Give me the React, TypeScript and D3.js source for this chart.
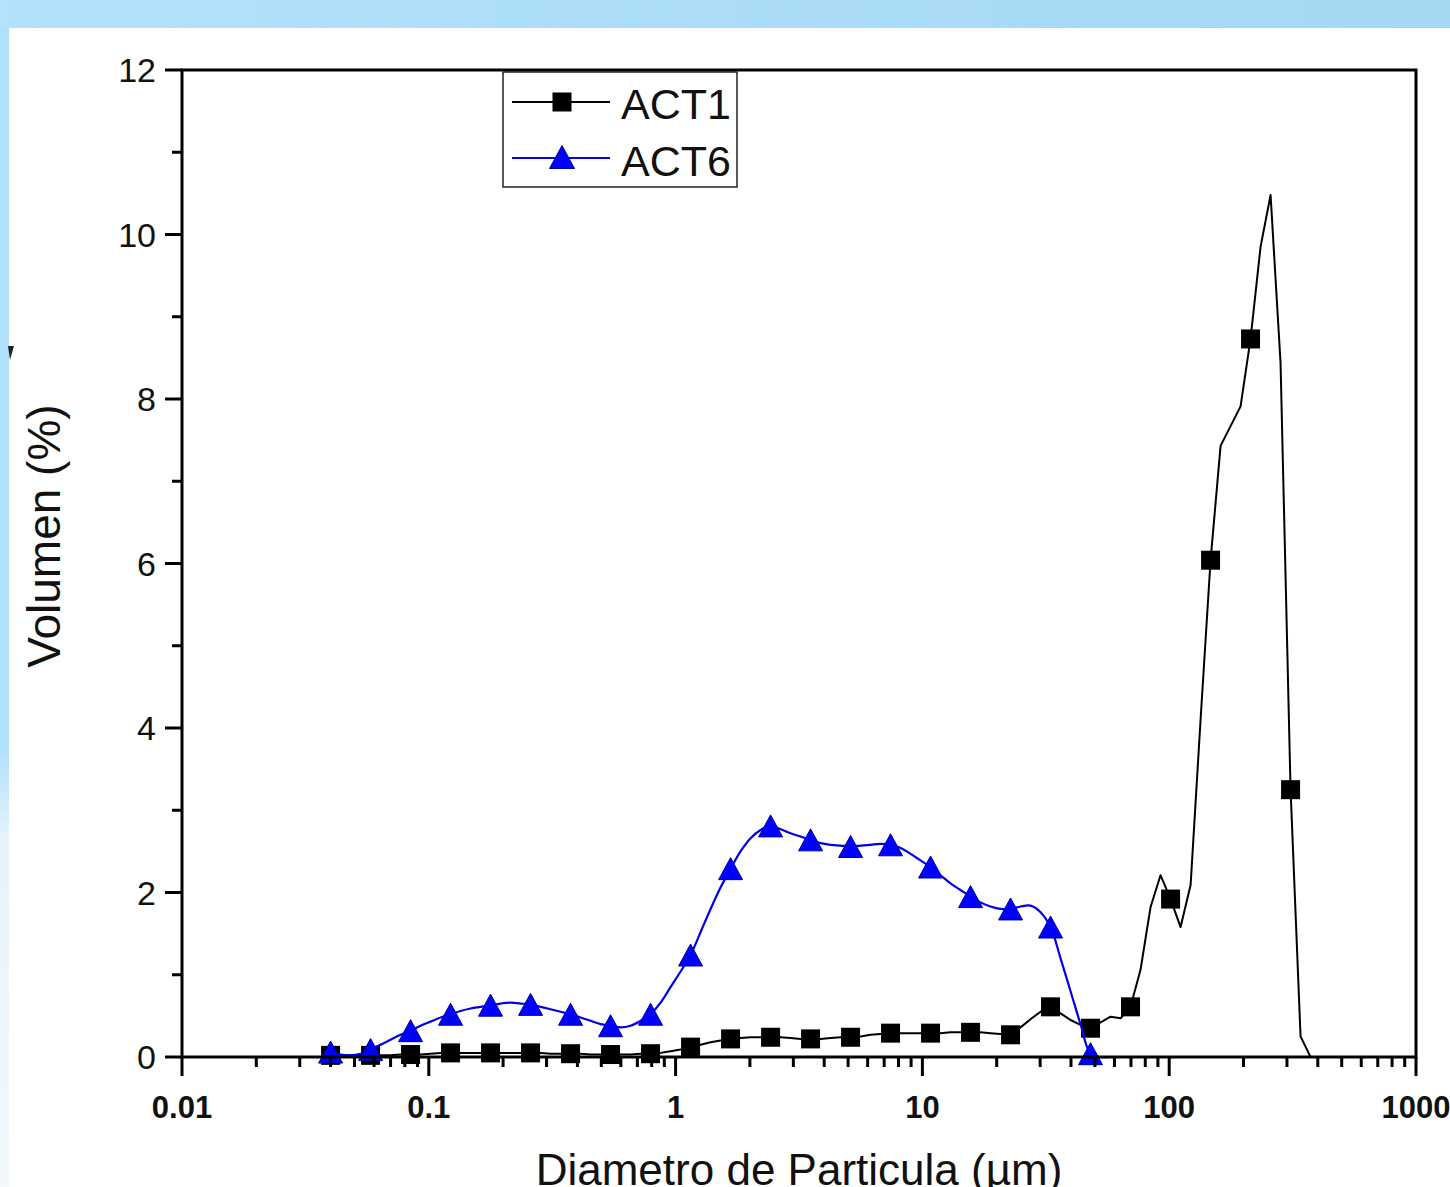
import React from 'react';
import * as d3 from 'd3';

// Particle diameters (µm) of the size classes
const DIAMETRO = [
  0.0400, 0.04391, 0.04820, 0.05292, 0.05809, 0.06377, 0.07000, 0.07685, 0.08436, 0.09261,
  0.1017, 0.1116, 0.1225, 0.1345, 0.1477, 0.1621, 0.1779, 0.1953, 0.2144, 0.2354,
  0.2584, 0.2837, 0.3114, 0.3419, 0.3753, 0.4120, 0.4523, 0.4965, 0.5450, 0.5983,
  0.6568, 0.7210, 0.7915, 0.8689, 0.9539, 1.048, 1.150, 1.263, 1.386, 1.521,
  1.670, 1.833, 2.013, 2.210, 2.426, 2.663, 2.923, 3.209, 3.523, 3.867,
  4.245, 4.660, 5.116, 5.616, 6.165, 6.768, 7.429, 8.156, 8.953, 9.829,
  10.79, 11.85, 13.00, 14.27, 15.67, 17.20, 18.88, 20.73, 22.76, 24.98,
  27.43, 30.11, 33.05, 36.28, 39.83, 43.72, 48.00, 52.69, 57.84, 63.50,
  69.71, 76.52, 84.00, 92.22, 101.3, 111.2, 122.1, 134.0, 147.1, 161.5,
  177.3, 194.6, 213.6, 234.5, 257.5, 282.6, 310.3, 340.6, 373.9,
];

// Volume (%) ACT1
const ACT1: (number | null)[] = [
  0.02, 0.02, 0.02, 0.02, 0.02, 0.02, 0.02, 0.03, 0.03, 0.03,
  0.04, 0.05, 0.05, 0.05, 0.05, 0.05, 0.05, 0.05, 0.05, 0.05,
  0.05, 0.05, 0.04, 0.04, 0.04, 0.04, 0.03, 0.03, 0.03, 0.03,
  0.03, 0.04, 0.04, 0.05, 0.07, 0.09, 0.12, 0.15, 0.18, 0.20,
  0.22, 0.23, 0.24, 0.24, 0.24, 0.24, 0.23, 0.22, 0.22, 0.22,
  0.23, 0.24, 0.24, 0.25, 0.27, 0.28, 0.29, 0.29, 0.29, 0.29,
  0.29, 0.29, 0.30, 0.30, 0.30, 0.30, 0.29, 0.28, 0.27, 0.36,
  0.46, 0.55, 0.61, 0.53, 0.45, 0.39, 0.35, 0.42, 0.49, 0.47,
  0.61, 1.06, 1.82, 2.21, 1.92, 1.58, 2.09, 4.10, 6.04, 7.43,
  7.67, 7.91, 8.73, 9.85, 10.48, 8.44, 3.25, 0.25, 0.00,
];

// Volume (%) ACT6
const ACT6: (number | null)[] = [
  0.06, 0.03, 0.02, 0.04, 0.09, 0.15, 0.21, 0.27, 0.32, 0.38,
  0.43, 0.48, 0.52, 0.56, 0.59, 0.61, 0.63, 0.65, 0.66, 0.65,
  0.64, 0.61, 0.58, 0.55, 0.52, 0.48, 0.44, 0.40, 0.38, 0.36,
  0.38, 0.44, 0.52, 0.66, 0.85, 1.04, 1.24, 1.52, 1.80, 2.06,
  2.29, 2.50, 2.66, 2.76, 2.81, 2.77, 2.72, 2.68, 2.64, 2.60,
  2.58, 2.57, 2.56, 2.57, 2.58, 2.59, 2.58, 2.54, 2.47, 2.39,
  2.31, 2.21, 2.11, 2.03, 1.95, 1.88, 1.83, 1.80, 1.80, 1.83,
  1.84, 1.76, 1.58, 1.20, 0.80, 0.40, 0.04, 0.00, 0.00, null,
  null, null, null, null, null, null, null, null, null, null,
  null, null, null, null, null, null, null, null, null,
];

const MARKER_EVERY = 4;
const SERIES_NAMES = ['ACT1', 'ACT6'];
const Y_TICKS = [0, 2, 4, 6, 8, 10, 12];
const Y_MINOR = [1, 3, 5, 7, 9, 11];
const X_TICKS = [0.01, 0.1, 1, 10, 100, 1000];
const X_TICK_LABELS = ['0.01', '0.1', '1', '10', '100', '1000'];
const X_TITLE = 'Diametro de Particula (µm)';
const Y_TITLE = 'Volumen (%)';

const W = 1450;
const H = 1187;
const L = 182, R = 1416, T = 70, B = 1057;
const FONT = '"Liberation Sans", Arial, sans-serif';

export default function App() {
  const x = d3.scaleLog().domain([0.01, 1000]).range([L, R]);
  const y = d3.scaleLinear().domain([0, 12]).range([B, T]);

  const minorX: number[] = [];
  for (let d = 0; d < X_TICKS.length - 1; d++) {
    for (let k = 2; k <= 9; k++) minorX.push(X_TICKS[d] * k);
  }

  const mk = (vals: (number | null)[]) =>
    vals.map((v, i) => ({ d: DIAMETRO[i], v, i }));
  const d1 = mk(ACT1);
  const d6 = mk(ACT6);

  const line1 = d3
    .line<{ d: number; v: number | null }>()
    .defined((p) => p.v != null)
    .x((p) => x(p.d))
    .y((p) => y(p.v as number))
    .curve(d3.curveLinear);
  const line6 = d3
    .line<{ d: number; v: number | null }>()
    .defined((p) => p.v != null)
    .x((p) => x(p.d))
    .y((p) => y(p.v as number))
    .curve(d3.curveCatmullRom.alpha(0.5));

  const m1 = d1.filter((p) => p.v != null && p.i % MARKER_EVERY === 0);
  const m6 = d6.filter((p) => p.v != null && p.i % MARKER_EVERY === 0 && p.i <= 76);

  const SQ = 19;
  const TW = 24, TH = 22;
  const tri = (cx: number, cy: number, w = TW, h = TH) =>
    `M${cx},${cy - h / 2}L${cx + w / 2},${cy + h / 2}L${cx - w / 2},${cy + h / 2}Z`;

  const BLUE = '#0000e8';

  return (
    <svg
      width={W}
      height={H}
      style={{ position: 'absolute', left: 0, top: 0, display: 'block' }}
      xmlns="http://www.w3.org/2000/svg"
    >
      <defs>
        <linearGradient id="topband" x1="0" y1="0" x2="1" y2="0">
          <stop offset="0" stopColor="#b2e2fc" />
          <stop offset="1" stopColor="#a6d7f3" />
        </linearGradient>
        <linearGradient id="leftband" x1="0" y1="0" x2="0" y2="1">
          <stop offset="0" stopColor="#b0e0fb" />
          <stop offset="0.62" stopColor="#b0e0fb" />
          <stop offset="0.70" stopColor="#e6f3fb" />
          <stop offset="1" stopColor="#f4f8fa" />
        </linearGradient>
      </defs>
      <rect x={0} y={0} width={W} height={H} fill="#ffffff" />
      <rect x={0} y={0} width={W} height={28} fill="url(#topband)" />
      <rect x={0} y={28} width={9} height={H - 28} fill="url(#leftband)" />
      <path d="M8,346 L14,346 L10,360 Z" fill="#222" />

      {/* data */}
      <path d={line1(d1) || ''} fill="none" stroke="#000" strokeWidth={2} strokeLinejoin="round" />
      {m1.map((p) => (
        <rect
          key={'s' + p.i}
          x={x(p.d) - SQ / 2}
          y={y(p.v as number) - SQ / 2}
          width={SQ}
          height={SQ}
          fill="#000"
        />
      ))}
      <path d={line6(d6) || ''} fill="none" stroke={BLUE} strokeWidth={2.2} strokeLinejoin="round" />
      {m6.map((p) => (
        <path
          key={'t' + p.i}
          d={tri(x(p.d), y(p.v as number))}
          fill="#0000ff"
          stroke="#00009a"
          strokeWidth={1}
        />
      ))}

      {/* frame */}
      <rect x={L} y={T} width={R - L} height={B - T} fill="none" stroke="#000" strokeWidth={3} />

      {/* y ticks */}
      {Y_TICKS.map((t) => (
        <g key={'yt' + t}>
          <line x1={L - 17} x2={L} y1={y(t)} y2={y(t)} stroke="#000" strokeWidth={3} />
          <text
            x={L - 26}
            y={y(t) + 12}
            textAnchor="end"
            fontFamily={FONT}
            fontSize={34}
            fill="#111"
          >
            {t}
          </text>
        </g>
      ))}
      {Y_MINOR.map((t) => (
        <line key={'ym' + t} x1={L - 10} x2={L} y1={y(t)} y2={y(t)} stroke="#000" strokeWidth={3} />
      ))}

      {/* x ticks */}
      {X_TICKS.map((t, i) => (
        <g key={'xt' + t}>
          <line x1={x(t)} x2={x(t)} y1={B} y2={B + 19} stroke="#000" strokeWidth={3} />
          <text
            x={x(t)}
            y={1118}
            textAnchor="middle"
            fontFamily={FONT}
            fontWeight="bold"
            fontSize={31}
            fill="#111"
          >
            {X_TICK_LABELS[i]}
          </text>
        </g>
      ))}
      {minorX.map((t) => (
        <line key={'xm' + t} x1={x(t)} x2={x(t)} y1={B} y2={B + 10} stroke="#000" strokeWidth={3} />
      ))}

      {/* axis titles */}
      <text
        x={799}
        y={1185}
        textAnchor="middle"
        fontFamily={FONT}
        fontSize={44}
        fill="#111"
      >
        {X_TITLE}
      </text>
      <text
        transform={`translate(60,536) rotate(-90)`}
        textAnchor="middle"
        fontFamily={FONT}
        fontSize={46}
        fill="#111"
      >
        {Y_TITLE}
      </text>

      {/* legend */}
      <rect x={503} y={72} width={234} height={115} fill="#fff" stroke="#222" strokeWidth={1.5} />
      <line x1={512} x2={610} y1={102} y2={102} stroke="#000" strokeWidth={2} />
      <rect x={562 - 9.5} y={102 - 9.5} width={19} height={19} fill="#000" />
      <text x={621} y={119} fontFamily={FONT} fontSize={43} fill="#111">
        {SERIES_NAMES[0]}
      </text>
      <line x1={512} x2={610} y1={158} y2={158} stroke={BLUE} strokeWidth={2.2} />
      <path d={tri(562, 157, 25, 23)} fill="#0000ff" stroke="#00009a" strokeWidth={1} />
      <text x={621} y={176} fontFamily={FONT} fontSize={43} fill="#111">
        {SERIES_NAMES[1]}
      </text>
    </svg>
  );
}
